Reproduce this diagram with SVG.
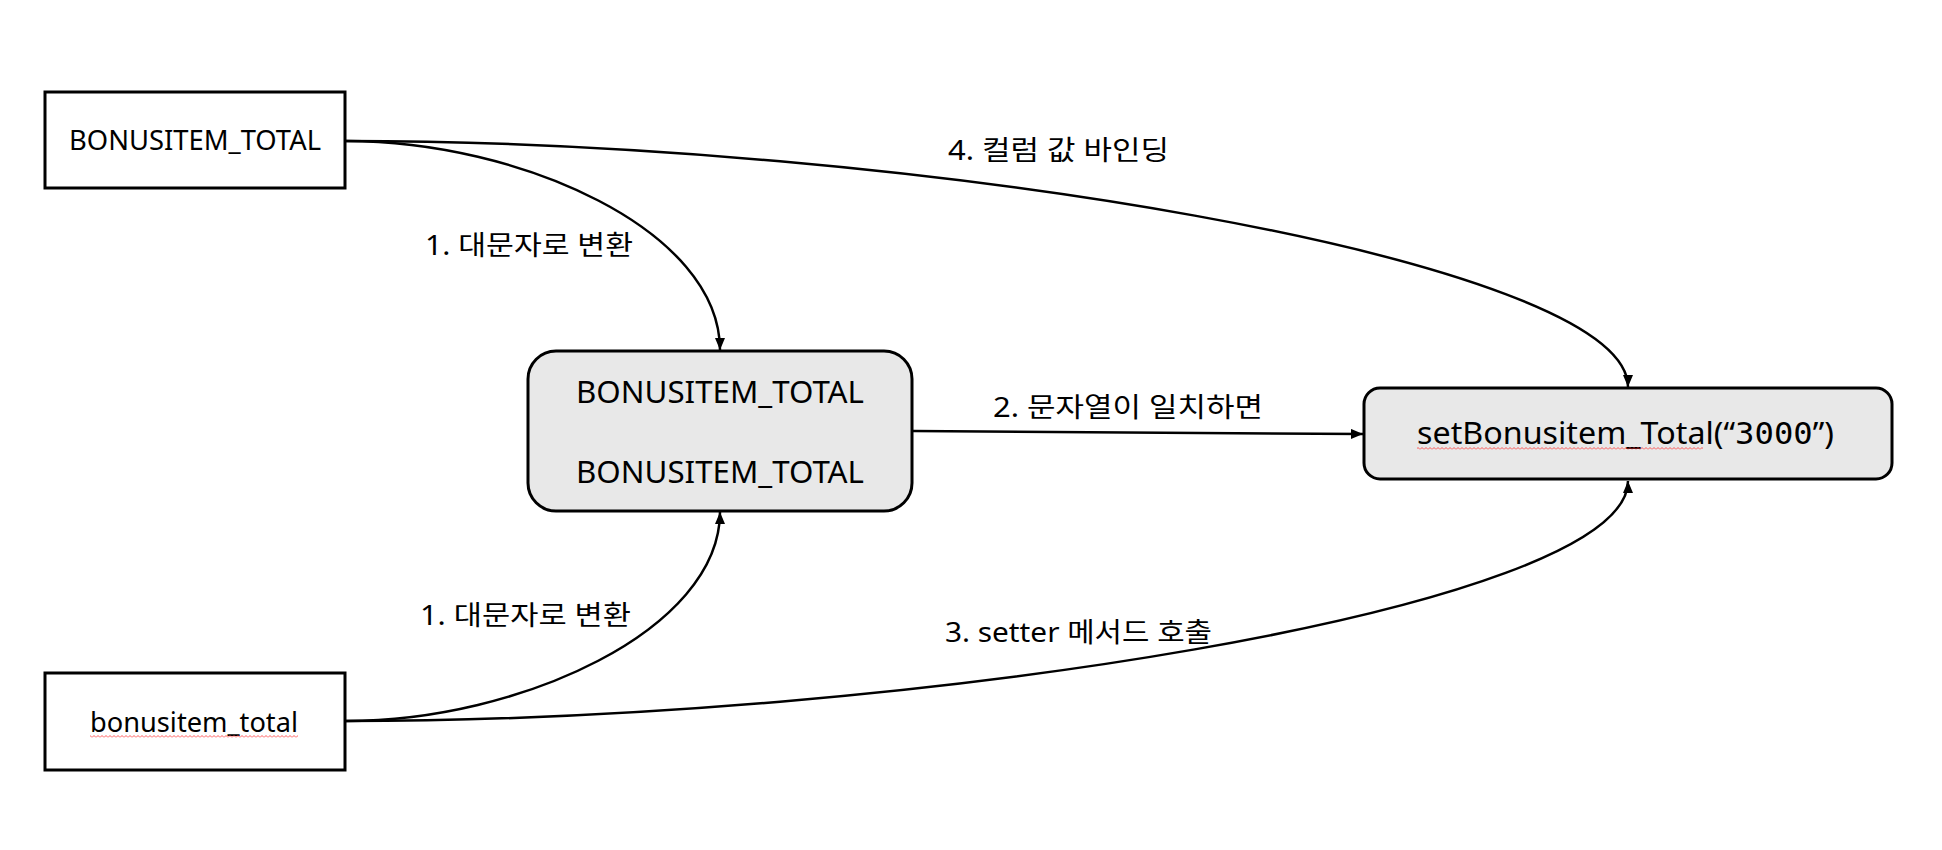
<svg xmlns="http://www.w3.org/2000/svg" width="1942" height="850" viewBox="0 0 1942 850">
  <style>
    .box { fill: #ffffff; stroke: #000000; stroke-width: 3; }
    .rbox { fill: #e8e8e8; stroke: #000000; stroke-width: 3; }
    .t { font-family: "Noto Sans", "Noto Sans CJK KR", sans-serif; fill: #000000; }
    .lbl { font-family: "Noto Sans", "Noto Sans CJK KR", sans-serif; font-size: 27px; fill: #000000; }
    .edge { fill: none; stroke: #000000; stroke-width: 2.5; }
    .mono { font-family: "DejaVu Sans Mono", "Liberation Mono", monospace; }
  </style>
  <defs>
    <marker id="arr" viewBox="0 0 12 10" refX="12" refY="5" markerWidth="12" markerHeight="10" markerUnits="userSpaceOnUse" orient="auto">
      <path d="M0,0 L12,5 L0,10 Z" fill="#000000"/>
    </marker>
    <pattern id="squig" x="0" y="0" width="4" height="3" patternUnits="userSpaceOnUse">
      <polyline points="0,2.5 2,0.5 4,2.5" fill="none" stroke="#ff3030" stroke-width="0.8"/>
    </pattern>
  </defs>

  <rect width="1942" height="850" fill="#ffffff"/>

  <g id="connectors">
    <path class="edge" d="M346,141 C520,141 720,230 720,350" marker-end="url(#arr)"/>
    <path class="edge" d="M346,721 C520,721 720,630 720,512" marker-end="url(#arr)"/>
    <path class="edge" d="M913,431 L1363,434" marker-end="url(#arr)"/>
    <path class="edge" d="M346,141 C900,141 1628,258 1628,387" marker-end="url(#arr)"/>
    <path class="edge" d="M346,721 C900,721 1628,610 1628,481" marker-end="url(#arr)"/>
    <text class="lbl" x="425" y="255" textLength="208" lengthAdjust="spacingAndGlyphs">1. 대문자로 변환</text>
    <text class="lbl" x="420" y="625" textLength="211" lengthAdjust="spacingAndGlyphs">1. 대문자로 변환</text>
    <text class="lbl" x="993" y="417" textLength="270" lengthAdjust="spacingAndGlyphs">2. 문자열이 일치하면</text>
    <text class="lbl" x="945" y="642" textLength="267" lengthAdjust="spacingAndGlyphs">3. setter 메서드 호출</text>
    <text class="lbl" x="948" y="160" textLength="221" lengthAdjust="spacingAndGlyphs">4. 컬럼 값 바인딩</text>
  </g>

  <g id="node-upper">
    <rect class="box" x="45" y="92" width="300" height="96"/>
    <text class="t" x="69" y="150" font-size="27" textLength="252" lengthAdjust="spacingAndGlyphs">BONUSITEM_TOTAL</text>
  </g>

  <g id="node-lower">
    <rect class="box" x="45" y="673" width="300" height="97"/>
    <text class="t" x="90" y="732" font-size="27" textLength="208" lengthAdjust="spacingAndGlyphs">bonusitem_total</text>
    <rect x="90" y="735" width="208" height="3" fill="url(#squig)"/>
  </g>

  <g id="node-compare">
    <rect class="rbox" x="528" y="351" width="384" height="160" rx="28" ry="28"/>
    <text class="t" x="576" y="403" font-size="31" textLength="288" lengthAdjust="spacingAndGlyphs">BONUSITEM_TOTAL</text>
    <text class="t" x="576" y="483" font-size="31" textLength="288" lengthAdjust="spacingAndGlyphs">BONUSITEM_TOTAL</text>
  </g>

  <g id="node-setter">
    <rect class="rbox" x="1364" y="388" width="528" height="91" rx="16" ry="16"/>
    <text class="t" x="1417" y="444" font-size="30" textLength="417" lengthAdjust="spacingAndGlyphs">setBonusitem_Total(“<tspan class="mono">3000</tspan>”)</text>
    <rect x="1417" y="447" width="286" height="3" fill="url(#squig)"/>
  </g>
</svg>
